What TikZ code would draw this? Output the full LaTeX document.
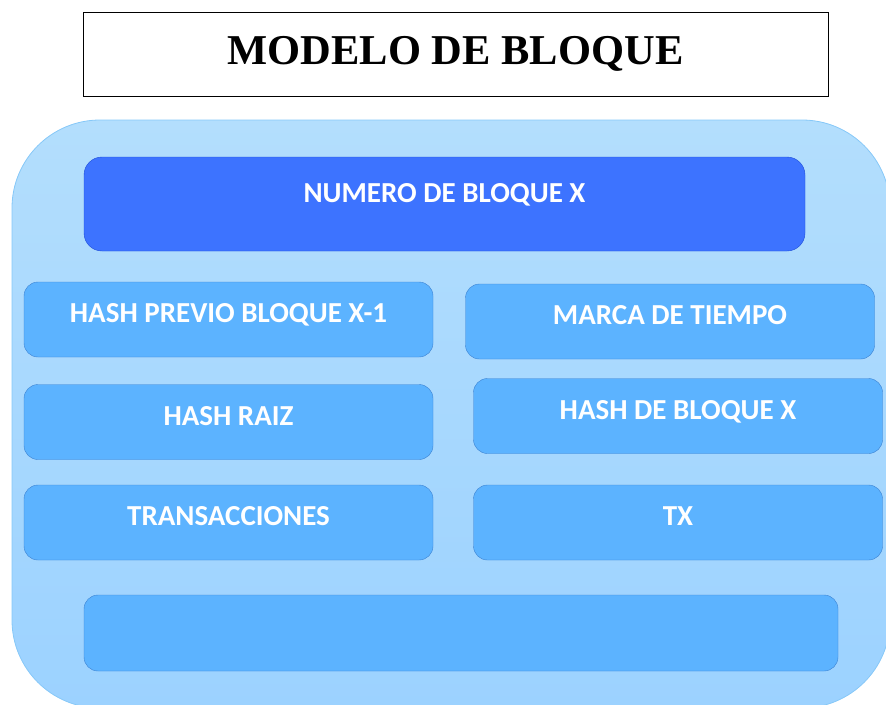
\documentclass[tikz,border=0pt]{standalone}
\usepackage{fontspec}
\setmainfont{Liberation Serif}
\newfontfamily\boxfont{Carlito}
\usepackage{tikz}
\usetikzlibrary{positioning}
\definecolor{frametop}{HTML}{B3DEFD}
\definecolor{framebot}{HTML}{9CD2FF}
\definecolor{framedraw}{HTML}{86C8F8}
\definecolor{headfill}{HTML}{3D73FF}
\definecolor{headdraw}{HTML}{1D4CD8}
\definecolor{cellfill}{HTML}{5CB3FF}
\definecolor{celldraw}{HTML}{3B82D2}

\begin{document}
\begin{tikzpicture}[
x=1pt, y=-1pt,
TitleBox/.style={draw=black,thick,fill=white,minimum width=745pt,minimum height=84pt,
  font=\fontsize{42.5}{46}\selectfont\bfseries},
Frame/.style={draw=framedraw,thick,top color=frametop,bottom color=framebot,rounded corners=88pt},
HeadBox/.style={draw=headdraw,fill=headfill,rounded corners=18pt,minimum width=721pt,
  minimum height=94pt,inner sep=0pt,text=white,text height=19pt,text depth=22pt,
  font=\boxfont\fontsize{29}{32}\selectfont\bfseries},
Cell/.style={draw=celldraw,fill=cellfill,rounded corners=14pt,minimum width=409pt,
  minimum height=75pt,inner sep=0pt,text=white,text height=19pt,text depth=13pt,
  font=\boxfont\fontsize{29}{32}\selectfont\bfseries}
]
\useasboundingbox (0,0) rectangle (886,704);

% title
\node[TitleBox] (title) at (455.5,54) {MODELO DE BLOQUE};

% outer block
\draw[Frame] (12,120) rectangle (890,708);

\node[HeadBox] (numero) at (444.5,204) {NUMERO DE BLOQUE X};

% left column
\node[Cell] (hashprev) at (228.5,319.5) {HASH PREVIO BLOQUE X-1};
\node[Cell] (hashraiz) at (228.5,422) {HASH RAIZ};
\node[Cell] (trans) at (228.5,522.5) {TRANSACCIONES};

% right column
\node[Cell] (marca) at (670,321.5) {MARCA DE TIEMPO};
\node[Cell] (hashx) at (678,416) {HASH DE BLOQUE X};
\node[Cell] (tx) at (678,522.5) {TX};

\node[Cell,minimum width=754pt,minimum height=76pt] (pie) at (461,633) {};

\end{tikzpicture}
\end{document}
